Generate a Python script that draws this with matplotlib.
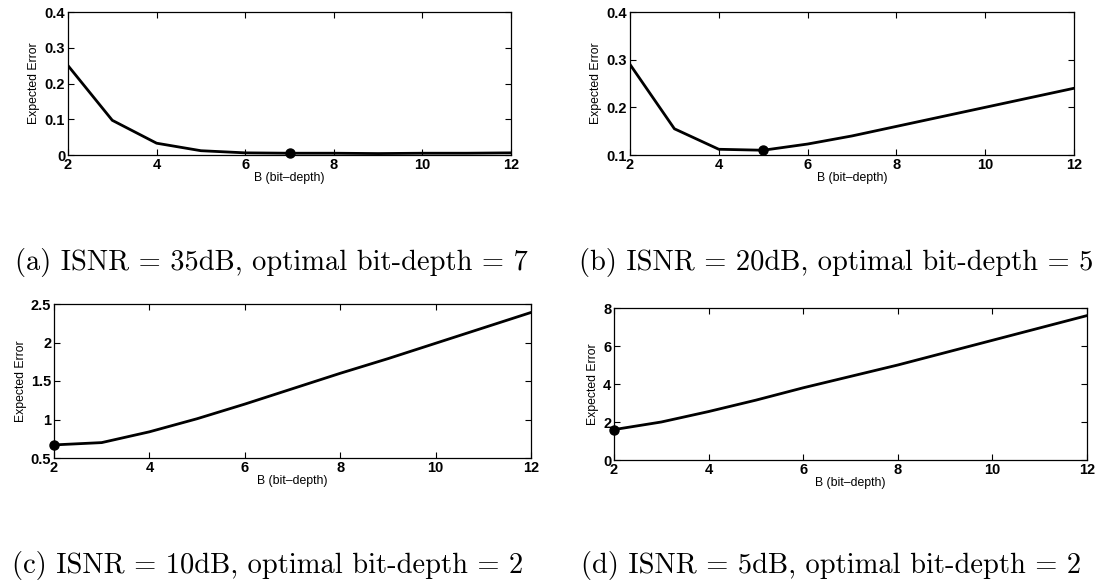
import matplotlib
matplotlib.use("Agg")
import matplotlib.pyplot as plt

bits = [2, 3, 4, 5, 6, 7, 8, 9, 10, 11, 12]

err_35db = [0.250, 0.097, 0.033, 0.012, 0.006, 0.005, 0.005, 0.004, 0.005, 0.005, 0.006]
err_20db = [0.290, 0.155, 0.112, 0.110, 0.123, 0.140, 0.160, 0.180, 0.200, 0.220, 0.240]
err_10db = [0.67, 0.70, 0.84, 1.01, 1.20, 1.40, 1.60, 1.79, 1.99, 2.19, 2.39]
err_5db = [1.60, 2.00, 2.55, 3.15, 3.80, 4.40, 5.00, 5.65, 6.30, 6.95, 7.60]

best_bits = [7, 5, 2, 2]
captions = ["(a) ISNR = 35dB, optimal bit-depth = 7",
            "(b) ISNR = 20dB, optimal bit-depth = 5",
            "(c) ISNR = 10dB, optimal bit-depth = 2",
            "(d) ISNR = 5dB, optimal bit-depth = 2"]
ylims = [(0, 0.4), (0.1, 0.4), (0.5, 2.5), (0, 8)]
yticks = [[0, 0.1, 0.2, 0.3, 0.4], [0.1, 0.2, 0.3, 0.4],
          [0.5, 1, 1.5, 2, 2.5], [0, 2, 4, 6, 8]]
ytick_labels = [["0", "0.1", "0.2", "0.3", "0.4"], ["0.1", "0.2", "0.3", "0.4"],
                ["0.5", "1", "1.5", "2", "2.5"], ["0", "2", "4", "6", "8"]]

plt.rcParams['font.family'] = ['Liberation Sans', 'DejaVu Sans']

W, H = 1104, 583
fig = plt.figure(figsize=(W / 100, H / 100), dpi=100)

# axes boxes in pixels: left, top, right, bottom
boxes = [(68, 12, 511, 155), (630, 12, 1074, 155),
         (54, 304, 531, 458), (614, 308, 1087, 460)]
caption_pos = [(271, 262), (836, 262), (268, 565), (831, 565)]

series = [err_35db, err_20db, err_10db, err_5db]

for i in range(4):
    l, t, r, b = boxes[i]
    ax = fig.add_axes([l / W, 1 - b / H, (r - l) / W, (b - t) / H])
    ax.plot(bits, series[i], color='black', lw=2.0)
    k = bits.index(best_bits[i])
    ax.plot(bits[k], series[i][k], 'o', color='black', ms=6.5, clip_on=False)
    ax.set_xlim(2, 12)
    ax.set_ylim(*ylims[i])
    ax.set_xticks([2, 4, 6, 8, 10, 12])
    ax.set_yticks(yticks[i])
    ax.set_yticklabels(ytick_labels[i])
    ax.tick_params(direction='in', top=True, right=True, length=4, width=0.8,
                   pad=2, labelsize=10.5)
    for lab in ax.get_xticklabels() + ax.get_yticklabels():
        lab.set_fontweight('bold')
    for s in ax.spines.values():
        s.set_linewidth(0.9)
    ax.set_xlabel("B (bit\u2013depth)", fontsize=8.8, labelpad=0)
    ax.set_ylabel("Expected Error", fontsize=8.8, labelpad=3)
    cx, cy = caption_pos[i]
    fig.text(cx / W, 1 - cy / H, captions[i], ha='center', va='center',
             fontsize=20.5, family='cmr10')

fig.savefig("out.png", dpi=100)
